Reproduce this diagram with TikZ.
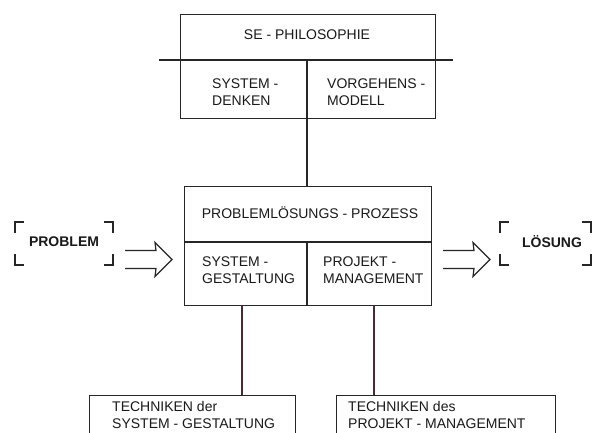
\documentclass[tikz,border=0pt]{standalone}
\usepackage{fontspec}
\setmainfont{Liberation Sans}
\definecolor{wirecol}{RGB}{72,44,50}
\begin{document}
\begin{tikzpicture}[x=1pt,y=-1pt,
  ink/.style={draw=black!85},
  frame/.style={ink, line width=1.2pt, inner sep=0pt, anchor=north west},
  rule/.style={ink, line width=1.2pt},
  wire/.style={draw=wirecol, line width=1.1pt},
  label/.style={text=black!90, font=\fontsize{14}{17}\selectfont, inner sep=0pt},
  cell/.style={label, align=left, anchor=west},
  keyword/.style={label, font=\fontsize{14}{17}\selectfont\bfseries},
  bracket/.style={ink, line width=1.2pt},
  hollow/.style={ink, line width=1.2pt, line join=miter}
]
\clip (0,0) rectangle (600,432);
\fill[white] (0,0) rectangle (600,432);

% --- SE philosophy block ---
\node[frame, minimum width=255pt, minimum height=104pt] (philo) at (180,14) {};
\coordinate (hl) at (159,60);
\coordinate (hr) at (453,60);
\draw[rule] (hl) -- (hr);
\coordinate (d1) at (307,60);
\node[label] (philotitle) at (307,35) {SE - PHILOSOPHIE};
\node[cell] (denken) at (212,92) {SYSTEM -\\DENKEN};
\node[cell] (modell) at (327,92) {VORGEHENS -\\MODELL};

% --- problem solving process block ---
\node[frame, minimum width=247pt, minimum height=119pt] (proc) at (184,186) {};
\draw[rule] (d1) -- (d1 |- proc.north);
\coordinate (m1) at (184,242);
\coordinate (m2) at (431,242);
\draw[rule] (m1) -- (m2);
\coordinate (d2) at (307,242);
\draw[rule] (d2) -- (d2 |- proc.south);
\node[label] (proctitle) at (310,213) {PROBLEMLÖSUNGS - PROZESS};
\node[cell] (gest) at (202,270) {SYSTEM -\\GESTALTUNG};
\node[cell] (mgmt) at (323,270) {PROJEKT -\\MANAGEMENT};

% --- technique blocks ---
\node[frame, minimum width=206pt, minimum height=70pt] (tsg) at (89,395) {};
\node[frame, minimum width=219pt, minimum height=70pt] (tpm) at (336,395) {};
\node[cell] (tsgtext) at (112,415) {TECHNIKEN der\\SYSTEM - GESTALTUNG};
\node[cell] (tpmtext) at (348,415) {TECHNIKEN des\\PROJEKT - MANAGEMENT};
\coordinate (c1) at (242,305);
\coordinate (c2) at (374,305);
\draw[wire] (c1) -- (c1 |- tsg.north);
\draw[wire] (c2) -- (c2 |- tpm.north);

% --- problem / solution with corner brackets ---
\node[keyword] (problem) at (64,242) {PROBLEM};
\node[keyword] (loesung) at (552,242) {LÖSUNG};
\foreach \l/\r in {15/113, 500/591}{
  \draw[bracket] (\l+9,222) -- (\l,222) -- (\l,233);
  \draw[bracket] (\l,254) -- (\l,265) -- (\l+9,265);
  \draw[bracket] (\r-9,222) -- (\r,222) -- (\r,233);
  \draw[bracket] (\r,254) -- (\r,265) -- (\r-9,265);
}

% --- hollow arrows ---
\coordinate (a1) at (125,242);
\coordinate (a2) at (443,242);
\foreach \s in {a1, a2}{
  \draw[hollow] ([yshift=-8.5pt]\s) -- ++(31,0) -- ++(-1,-8) -- ++(17,17)
    -- ++(-17,17) -- ++(1,-8) -- ++(-31,0);
}
\end{tikzpicture}
\end{document}
